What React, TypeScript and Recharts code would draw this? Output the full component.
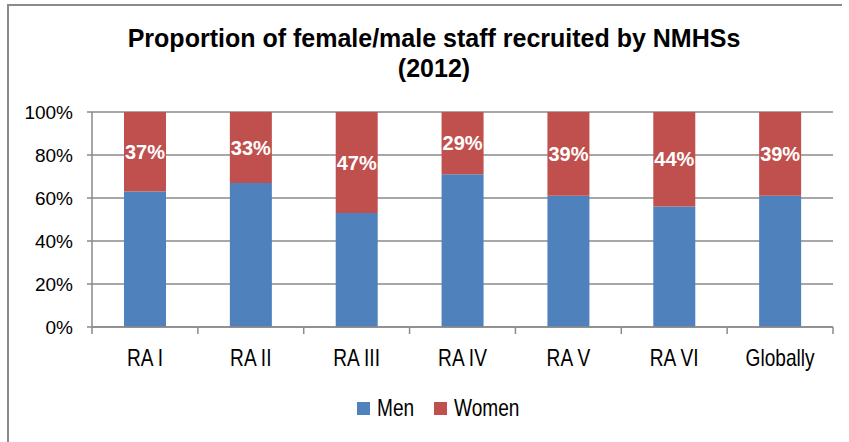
import React from 'react';
import { BarChart, Bar, XAxis, YAxis, CartesianGrid, Legend, LabelList } from 'recharts';

const regions = ['RA I', 'RA II', 'RA III', 'RA IV', 'RA V', 'RA VI', 'Globally'];
const men = [63, 67, 53, 71, 61, 56, 61];
const women = [37, 33, 47, 29, 39, 44, 39];
const yTicks = [0, 20, 40, 60, 80, 100];

const BLUE = '#4F81BD';
const RED = '#C0504D';
const GRID = '#8a8a8a';
const FONT = "'Liberation Sans', Arial, sans-serif";
// category labels and legend use a taller, slightly condensed face in the source
const SQUEEZE = 0.83;

const data = regions.map((r, i) => ({ region: r, men: men[i], women: women[i] }));

// category axis ticks sit on the band edges, labels in the middle
function RegionTick(props: any) {
  const { x, y, payload, index, visibleTicksCount } = props;
  const band = 741 / regions.length;
  const last = index === (visibleTicksCount ?? regions.length) - 1;
  return (
    <g>
      <line x1={x - band / 2} x2={x - band / 2} y1={y} y2={y + 7} stroke={GRID} strokeWidth={1.5} />
      {last && <line x1={x + band / 2} x2={x + band / 2} y1={y} y2={y + 7} stroke={GRID} strokeWidth={1.5} />}
      <text
        transform={`translate(${x},${y + 39}) scale(${SQUEEZE},1)`}
        textAnchor="middle"
        fill="#000"
        fontSize={23}
        fontFamily={FONT}
      >
        {payload.value}
      </text>
    </g>
  );
}

function LegendBox({ payload }: any) {
  return (
    <div style={{ display: 'flex', justifyContent: 'center', gap: 20, fontFamily: FONT, fontSize: 23, color: '#000', paddingLeft: 28 }}>
      {(payload || []).map((p: any) => (
        <div key={p.value} style={{ display: 'flex', alignItems: 'center', gap: 7 }}>
          <span style={{ width: 13, height: 13, background: p.color, display: 'inline-block' }} />
          <span style={{ display: 'inline-block', width: p.value === 'Men' ? 37 : 66, whiteSpace: 'nowrap', transform: `scaleX(${SQUEEZE})`, transformOrigin: 'left center' }}>
            {p.value}
          </span>
        </div>
      ))}
    </div>
  );
}

export default function App() {
  return (
    <div style={{ position: 'absolute', left: 0, top: 0, width: 849, height: 442, background: '#fff', overflow: 'hidden' }}>
      <div
        style={{
          position: 'absolute', left: 7, top: 4, width: 833, height: 460,
          borderTop: `2px solid ${GRID}`, borderLeft: `2px solid ${GRID}`,
        }}
      />
      <div
        style={{
          position: 'absolute', left: 34, top: 23, width: 800, textAlign: 'center',
          fontFamily: FONT, fontWeight: 'bold', fontSize: 25, lineHeight: '30px', color: '#000',
        }}
      >
        Proportion of female/male staff recruited by NMHSs
        <br />
        (2012)
      </div>
      <div style={{ position: 'absolute', left: 0, top: 0 }}>
        <BarChart width={849} height={442} data={data} margin={{ top: 112, right: 16, bottom: 85, left: 8 }} barSize={42}>
          <CartesianGrid vertical={false} stroke={GRID} strokeWidth={1.5} />
          <XAxis
            dataKey="region"
            height={30}
            axisLine={{ stroke: GRID, strokeWidth: 1.5 }}
            tickLine={false}
            tickSize={0}
            tickMargin={0}
            interval={0}
            tick={<RegionTick />}
          />
          <YAxis
            width={84}
            domain={[0, 100]}
            ticks={yTicks}
            tickFormatter={(v) => `${v}%`}
            axisLine={{ stroke: GRID, strokeWidth: 1.5 }}
            tickLine={{ stroke: GRID, strokeWidth: 1.5 }}
            tickSize={5}
            tickMargin={14}
            tick={{ fill: '#000', fontSize: 19, fontFamily: FONT }}
          />
          <Legend
            verticalAlign="middle"
            align="center"
            layout="horizontal"
            content={<LegendBox />}
            wrapperStyle={{ top: 395, left: 0, width: 849 }}
          />
          <Bar dataKey="men" name="Men" stackId="a" fill={BLUE} isAnimationActive={false} />
          <Bar dataKey="women" name="Women" stackId="a" fill={RED} isAnimationActive={false}>
            <LabelList
              dataKey="women"
              position="center"
              formatter={(v: any) => `${v}%`}
              fill="#fff"
              fontSize={20}
              fontWeight="bold"
              fontFamily={FONT}
            />
          </Bar>
        </BarChart>
      </div>
    </div>
  );
}
